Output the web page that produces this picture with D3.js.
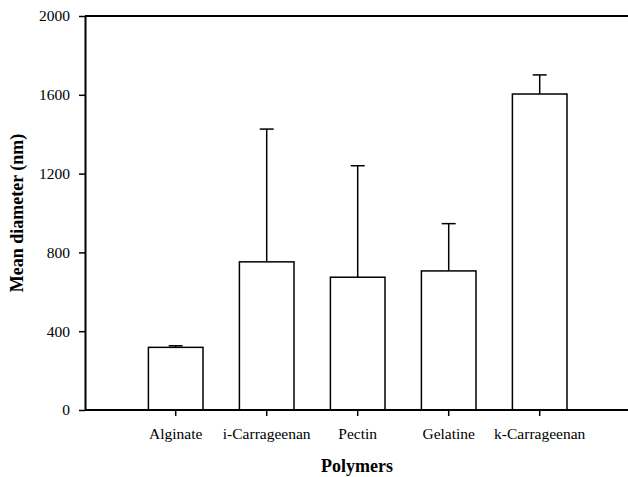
<!DOCTYPE html>
<html><head><meta charset="utf-8">
<script src="https://cdn.jsdelivr.net/npm/d3@7"></script>
<style>body{margin:0;background:#fff;} svg{display:block;}</style>
</head><body>
<svg id="c" width="628" height="477" font-family="Liberation Serif, Times New Roman, serif"></svg>
<script>
const categories = ["Alginate","i-Carrageenan","Pectin","Gelatine","k-Carrageenan"];
const means = [318, 752, 674, 706, 1604];
const errors = [8, 674, 566, 240, 97];
const yTicks = [0, 400, 800, 1200, 1600, 2000];
const serif = "Liberation Serif, Times New Roman, serif";

const svg = d3.select("#c");
const x = d3.scaleBand().domain(categories).range([130.2, 585.2]).paddingInner(0.4).paddingOuter(0.2);
const y = d3.scaleLinear().domain([0, 2000]).range([410, 16]);

// top frame line
svg.append("line").attr("x1", 85).attr("x2", 628).attr("y1", y(2000)).attr("y2", y(2000))
  .attr("stroke", "#000").attr("stroke-width", 2);

// bars
svg.selectAll("rect.bar").data(categories).enter().append("rect")
  .attr("x", d => x(d)).attr("width", x.bandwidth())
  .attr("y", (d,i) => y(means[i])).attr("height", (d,i) => y(0) - y(means[i]))
  .attr("fill", "#fff").attr("stroke", "#000").attr("stroke-width", 1.5);

// error bars
const eb = svg.selectAll("g.err").data(categories).enter().append("g");
eb.append("line")
  .attr("x1", d => x(d) + x.bandwidth()/2).attr("x2", d => x(d) + x.bandwidth()/2)
  .attr("y1", (d,i) => y(means[i])).attr("y2", (d,i) => y(means[i] + errors[i]))
  .attr("stroke", "#000").attr("stroke-width", 1.5);
eb.append("line")
  .attr("x1", d => x(d) + x.bandwidth()/2 - 7).attr("x2", d => x(d) + x.bandwidth()/2 + 7)
  .attr("y1", (d,i) => y(means[i] + errors[i])).attr("y2", (d,i) => y(means[i] + errors[i]))
  .attr("stroke", "#000").attr("stroke-width", 1.5);

// y axis
const ya = svg.append("g").attr("transform", "translate(85,0)")
  .call(d3.axisLeft(y).tickValues(yTicks).tickFormat(d3.format("d")).tickSize(6).tickPadding(9).tickSizeOuter(0))
  .attr("font-family", serif).attr("font-size", 15.5);
ya.select(".domain").attr("stroke-width", 2);
ya.selectAll(".tick line").attr("stroke-width", 1.5);
ya.selectAll("text").attr("fill", "#000");

// x axis
const xa = svg.append("g").attr("transform", "translate(0,410)")
  .call(d3.axisBottom(x).tickSize(6).tickPadding(12).tickSizeOuter(0))
  .attr("font-family", serif).attr("font-size", 15.5);
xa.select(".domain").attr("d", "M85,0H628").attr("stroke-width", 2);
xa.selectAll(".tick line").attr("stroke-width", 1.5);
xa.selectAll("text").attr("fill", "#000");

// titles
svg.append("text").attr("x", 357).attr("y", 472).attr("text-anchor", "middle")
  .attr("font-family", serif).attr("font-size", 18).attr("font-weight", "bold").text("Polymers");
svg.append("text").attr("transform", "translate(23,213) rotate(-90)").attr("text-anchor", "middle")
  .attr("font-family", serif).attr("font-size", 18).attr("font-weight", "bold").text("Mean diameter (nm)");
</script>
</body></html>
